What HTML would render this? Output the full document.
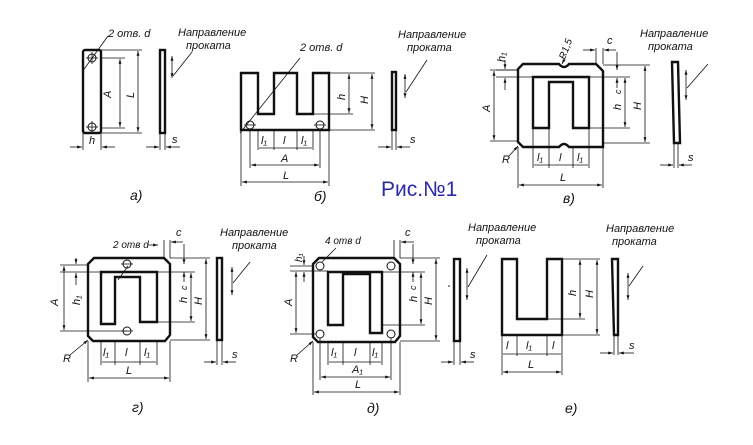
<!DOCTYPE html>
<html><head><meta charset="utf-8"><style>
html,body{margin:0;padding:0;background:#fff}
svg{display:block}
text{font-family:"Liberation Sans",sans-serif;font-style:italic;fill:#111}
.l{stroke:#111;fill:none;stroke-width:1}
.t{stroke:#111;fill:none;stroke-width:2.4}
.d{stroke:#111;fill:none;stroke-width:0.8}
</style></head><body>
<svg width="753" height="445" viewBox="0 0 753 445" xmlns="http://www.w3.org/2000/svg">
<defs>
<marker id="a" viewBox="0 0 10 10" refX="10" refY="5" markerWidth="6" markerHeight="6" orient="auto-start-reverse"><path d="M0,2 L10,5 L0,8z" fill="#111"/></marker>
</defs>
<g font-size="11">
<!-- Fig a -->
<rect class="t" x="83" y="50" width="18" height="83" rx="2"/>
<circle class="l" cx="92" cy="58" r="4"/><circle class="l" cx="92" cy="127" r="4"/>
<line class="d" x1="86" y1="58" x2="98" y2="58"/><line class="d" x1="92" y1="52" x2="92" y2="64"/>
<line class="d" x1="86" y1="127" x2="98" y2="127"/><line class="d" x1="92" y1="121" x2="92" y2="133"/>
<line class="d" x1="101" y1="58" x2="125" y2="58"/><line class="d" x1="101" y1="128" x2="125" y2="128"/>
<line class="d" x1="120" y1="59" x2="120" y2="127" marker-start="url(#a)" marker-end="url(#a)"/>
<line class="d" x1="101" y1="50" x2="142" y2="50"/><line class="d" x1="101" y1="133" x2="142" y2="133"/>
<line class="d" x1="138" y1="51" x2="138" y2="132" marker-start="url(#a)" marker-end="url(#a)"/>
<line class="d" x1="82" y1="72" x2="108" y2="36"/>
<text x="108" y="37">2 отв. d</text>
<text x="111" y="98" transform="rotate(-90 111 98)">A</text>
<text x="134" y="98" transform="rotate(-90 134 98)">L</text>
<line class="d" x1="83" y1="133" x2="83" y2="150"/><line class="d" x1="101" y1="133" x2="101" y2="150"/>
<line class="d" x1="70" y1="147" x2="82" y2="147" marker-end="url(#a)"/><line class="d" x1="115" y1="147" x2="102" y2="147" marker-end="url(#a)"/>
<text x="89" y="144">h</text>
<rect class="t" x="160" y="50" width="5" height="83"/>
<line class="d" x1="160" y1="133" x2="160" y2="150"/><line class="d" x1="165" y1="133" x2="165" y2="150"/>
<line class="d" x1="146" y1="147" x2="159" y2="147" marker-end="url(#a)"/><line class="d" x1="180" y1="147" x2="166" y2="147" marker-end="url(#a)"/>
<text x="172" y="143">s</text>
<line class="d" x1="172" y1="56" x2="172" y2="78" marker-start="url(#a)" marker-end="url(#a)"/>
<line class="d" x1="173" y1="76" x2="192" y2="52"/>
<text x="178" y="36">Направление</text><text x="186" y="49">проката</text>
<text x="130" y="200" font-size="14">а)</text>

<!-- Fig б -->
<path class="t" d="M241,130 L241,73 L258,73 L258,114 L274,114 L274,73 L297,73 L297,114 L313,114 L313,73 L329,73 L329,130 Z"/>
<circle class="l" cx="250" cy="125" r="4"/><circle class="l" cx="320" cy="125" r="4"/>
<line class="d" x1="244" y1="125" x2="256" y2="125"/><line class="d" x1="314" y1="125" x2="326" y2="125"/>
<line class="d" x1="240" y1="133" x2="300" y2="58"/>
<text x="300" y="51">2 отв. d</text>
<line class="d" x1="329" y1="73" x2="375" y2="73"/><line class="d" x1="297" y1="114" x2="353" y2="114"/><line class="d" x1="329" y1="130" x2="375" y2="130"/>
<line class="d" x1="349" y1="74" x2="349" y2="113" marker-start="url(#a)" marker-end="url(#a)"/>
<line class="d" x1="372" y1="74" x2="372" y2="129" marker-start="url(#a)" marker-end="url(#a)"/>
<text x="345" y="100" transform="rotate(-90 345 100)">h</text>
<text x="368" y="104" transform="rotate(-90 368 104)">H</text>
<line class="d" x1="241" y1="130" x2="241" y2="186"/><line class="d" x1="329" y1="130" x2="329" y2="186"/>
<line class="d" x1="250" y1="130" x2="250" y2="168"/><line class="d" x1="320" y1="130" x2="320" y2="168"/>
<line class="d" x1="258" y1="130" x2="258" y2="150"/><line class="d" x1="274" y1="130" x2="274" y2="150"/><line class="d" x1="297" y1="130" x2="297" y2="150"/><line class="d" x1="313" y1="130" x2="313" y2="150"/>
<line class="d" x1="259" y1="148" x2="312" y2="148"/>
<text x="261" y="144">l₁</text><text x="283" y="144">l</text><text x="301" y="144">l₁</text>
<line class="d" x1="251" y1="165" x2="319" y2="165" marker-start="url(#a)" marker-end="url(#a)"/><text x="281" y="162">A</text>
<line class="d" x1="242" y1="182" x2="328" y2="182" marker-start="url(#a)" marker-end="url(#a)"/><text x="283" y="179">L</text>
<rect class="t" x="392" y="72" width="4" height="58"/>
<line class="d" x1="392" y1="130" x2="392" y2="150"/><line class="d" x1="396" y1="130" x2="396" y2="150"/>
<line class="d" x1="378" y1="147" x2="391" y2="147" marker-end="url(#a)"/><line class="d" x1="410" y1="147" x2="397" y2="147" marker-end="url(#a)"/>
<text x="410" y="143">s</text>
<line class="d" x1="405" y1="74" x2="405" y2="98" marker-start="url(#a)" marker-end="url(#a)"/>
<line class="d" x1="406" y1="92" x2="427" y2="60"/>
<text x="398" y="38">Направление</text><text x="407" y="51">проката</text>
<text x="314" y="201" font-size="14">б)</text>

<text x="381" y="196" font-size="21" style="font-style:normal;fill:#2a2aa8">Рис.№1</text>

<!-- Fig в -->
<path class="t" d="M523,64 L559,64 Q564,70 569,64 L596,64 L603,71 L603,147 L569,147 Q564,141 559,147 L523,147 L518,142 L518,69 Z"/>
<path class="t" d="M533,77 L589,77 L589,128 L573,128 L573,82 L549,82 L549,128 L533,128 Z"/>
<line class="d" x1="496" y1="70" x2="518" y2="70"/><line class="d" x1="496" y1="77" x2="533" y2="77"/>
<line class="d" x1="505" y1="60" x2="505" y2="69" marker-end="url(#a)"/><line class="d" x1="505" y1="90" x2="505" y2="78" marker-end="url(#a)"/>
<text x="505" y="62" transform="rotate(-90 505 62)">h₁</text>
<line class="d" x1="490" y1="70" x2="518" y2="70"/><line class="d" x1="490" y1="141" x2="518" y2="141"/>
<line class="d" x1="494" y1="71" x2="494" y2="140" marker-start="url(#a)" marker-end="url(#a)"/>
<text x="490" y="112" transform="rotate(-90 490 112)">A</text>
<line class="d" x1="589" y1="77" x2="630" y2="77"/><line class="d" x1="589" y1="128" x2="630" y2="128"/><line class="d" x1="603" y1="65" x2="650" y2="65"/><line class="d" x1="603" y1="143" x2="650" y2="143"/>
<line class="d" x1="625" y1="78" x2="625" y2="127" marker-start="url(#a)" marker-end="url(#a)"/>
<line class="d" x1="645" y1="66" x2="645" y2="142" marker-start="url(#a)" marker-end="url(#a)"/>
<text x="621" y="110" transform="rotate(-90 621 110)">h</text><text x="641" y="110" transform="rotate(-90 641 110)">H</text>
<line class="d" x1="596" y1="48" x2="596" y2="64"/><line class="d" x1="603" y1="48" x2="603" y2="64"/>
<line class="d" x1="583" y1="50" x2="595" y2="50" marker-end="url(#a)"/><line class="d" x1="616" y1="50" x2="604" y2="50" marker-end="url(#a)"/>
<text x="607" y="44">c</text>
<line class="d" x1="617" y1="52" x2="617" y2="70" marker-end="url(#a)"/><line class="d" x1="617" y1="88" x2="617" y2="78" marker-end="url(#a)"/>
<text x="621" y="94" transform="rotate(-90 621 94)" font-size="9">c</text>
<text x="565" y="60" transform="rotate(-70 565 60)" font-size="10">R1,5</text>
<line class="d" x1="566" y1="56" x2="562" y2="64" marker-end="url(#a)"/>
<text x="502" y="163">R</text><line class="d" x1="509" y1="156" x2="518" y2="146" marker-end="url(#a)"/>
<line class="d" x1="518" y1="147" x2="518" y2="188"/><line class="d" x1="603" y1="147" x2="603" y2="188"/>
<line class="d" x1="533" y1="128" x2="533" y2="168"/><line class="d" x1="549" y1="128" x2="549" y2="168"/><line class="d" x1="573" y1="147" x2="573" y2="168"/><line class="d" x1="589" y1="128" x2="589" y2="168"/>
<line class="d" x1="534" y1="165" x2="588" y2="165"/>
<text x="537" y="161">l₁</text><text x="559" y="161">l</text><text x="577" y="161">l₁</text>
<line class="d" x1="519" y1="185" x2="602" y2="185" marker-start="url(#a)" marker-end="url(#a)"/><text x="560" y="181">L</text>
<path class="t" d="M672,62 L678,62 L680,143 L674,143 Z"/>
<line class="d" x1="674" y1="143" x2="674" y2="168"/><line class="d" x1="678" y1="143" x2="678" y2="168"/>
<line class="d" x1="660" y1="165" x2="673" y2="165" marker-end="url(#a)"/><line class="d" x1="692" y1="165" x2="679" y2="165" marker-end="url(#a)"/>
<text x="688" y="161">s</text>
<line class="d" x1="686" y1="70" x2="686" y2="100" marker-start="url(#a)" marker-end="url(#a)"/>
<line class="d" x1="687" y1="88" x2="708" y2="64"/>
<text x="640" y="37">Направление</text><text x="648" y="50">проката</text>
<text x="563" y="203" font-size="14">в)</text>

<!-- Fig г -->
<path class="t" d="M94,258 L164,258 L170,264 L170,335 L165,341 L93,341 L88,336 L88,264 Z"/>
<path class="t" d="M101,272 L157,272 L157,322 L140,322 L140,277 L115,277 L115,324 L101,324 Z"/>
<circle class="l" cx="127" cy="264" r="4"/><circle class="l" cx="127" cy="331" r="4"/>
<line class="d" x1="121" y1="264" x2="133" y2="264"/><line class="d" x1="121" y1="331" x2="133" y2="331"/>
<text x="113" y="248" font-size="10">2 отв d</text><line class="d" x1="148" y1="245" x2="158" y2="245" marker-end="url(#a)"/>
<line class="d" x1="128" y1="266" x2="118" y2="280"/>
<line class="d" x1="60" y1="265" x2="88" y2="265"/><line class="d" x1="60" y1="272" x2="101" y2="272"/><line class="d" x1="60" y1="331" x2="127" y2="331"/>
<line class="d" x1="64" y1="266" x2="64" y2="330" marker-start="url(#a)" marker-end="url(#a)"/>
<text x="58" y="306" transform="rotate(-90 58 306)">A</text>
<line class="d" x1="76" y1="258" x2="76" y2="264" marker-end="url(#a)"/><line class="d" x1="76" y1="285" x2="76" y2="273" marker-end="url(#a)"/>
<text x="80" y="305" transform="rotate(-90 80 305)">h₁</text>
<line class="d" x1="157" y1="272" x2="195" y2="272"/><line class="d" x1="157" y1="322" x2="195" y2="322"/><line class="d" x1="170" y1="258" x2="210" y2="258"/><line class="d" x1="170" y1="340" x2="210" y2="340"/>
<line class="d" x1="191" y1="273" x2="191" y2="321" marker-start="url(#a)" marker-end="url(#a)"/>
<line class="d" x1="206" y1="259" x2="206" y2="339" marker-start="url(#a)" marker-end="url(#a)"/>
<text x="187" y="303" transform="rotate(-90 187 303)">h</text><text x="202" y="305" transform="rotate(-90 202 305)">H</text>
<line class="d" x1="164" y1="240" x2="164" y2="258"/><line class="d" x1="170" y1="240" x2="170" y2="258"/>
<line class="d" x1="183" y1="242" x2="171" y2="242" marker-end="url(#a)"/>
<text x="176" y="236">c</text>
<line class="d" x1="184" y1="244" x2="184" y2="264" marker-end="url(#a)"/><line class="d" x1="184" y1="282" x2="184" y2="272" marker-end="url(#a)"/>
<text x="187" y="290" transform="rotate(-90 187 290)" font-size="9">c</text>
<text x="63" y="362">R</text><line class="d" x1="70" y1="355" x2="88" y2="340" marker-end="url(#a)"/>
<line class="d" x1="88" y1="341" x2="88" y2="382"/><line class="d" x1="170" y1="341" x2="170" y2="382"/>
<line class="d" x1="101" y1="341" x2="101" y2="365"/><line class="d" x1="115" y1="341" x2="115" y2="365"/><line class="d" x1="140" y1="341" x2="140" y2="365"/><line class="d" x1="157" y1="341" x2="157" y2="365"/>
<line class="d" x1="102" y1="362" x2="156" y2="362"/>
<text x="103" y="356">l₁</text><text x="125" y="356">l</text><text x="144" y="356">l₁</text>
<line class="d" x1="89" y1="378" x2="169" y2="378" marker-start="url(#a)" marker-end="url(#a)"/><text x="126" y="374">L</text>
<rect class="t" x="217" y="258" width="5" height="82"/>
<line class="d" x1="217" y1="340" x2="217" y2="365"/><line class="d" x1="222" y1="340" x2="222" y2="365"/>
<line class="d" x1="204" y1="362" x2="216" y2="362" marker-end="url(#a)"/><line class="d" x1="236" y1="362" x2="223" y2="362" marker-end="url(#a)"/>
<text x="232" y="358">s</text>
<line class="d" x1="232" y1="267" x2="232" y2="295" marker-start="url(#a)" marker-end="url(#a)"/>
<line class="d" x1="233" y1="283" x2="250" y2="262"/>
<text x="220" y="236">Направление</text><text x="232" y="249">проката</text>
<text x="132" y="412" font-size="14">г)</text>

<!-- Fig д -->
<path class="t" d="M319,258 L394,258 L400,264 L400,336 L395,342 L318,342 L313,337 L313,264 Z"/>
<path class="t" d="M328,272 L382,272 L382,333 L370,333 L370,274 L343,274 L343,325 L328,325 Z"/>
<circle class="l" cx="320" cy="266" r="4"/><circle class="l" cx="391" cy="266" r="4"/><circle class="l" cx="320" cy="334" r="4"/><circle class="l" cx="391" cy="334" r="4"/>
<text x="325" y="244" font-size="10">4 отв d</text><line class="d" x1="336" y1="248" x2="322" y2="262"/>
<line class="d" x1="290" y1="266" x2="313" y2="266"/><line class="d" x1="290" y1="271" x2="328" y2="271"/><line class="d" x1="290" y1="334" x2="316" y2="334"/>
<line class="d" x1="296" y1="272" x2="296" y2="333" marker-start="url(#a)" marker-end="url(#a)"/>
<text x="292" y="306" transform="rotate(-90 292 306)">A</text>
<line class="d" x1="304" y1="256" x2="304" y2="265" marker-end="url(#a)"/><line class="d" x1="304" y1="282" x2="304" y2="272" marker-end="url(#a)"/>
<text x="302" y="262" transform="rotate(-90 302 262)" font-size="10">h₁</text>
<line class="d" x1="382" y1="272" x2="425" y2="272"/><line class="d" x1="382" y1="325" x2="425" y2="325"/><line class="d" x1="400" y1="258" x2="440" y2="258"/><line class="d" x1="400" y1="341" x2="440" y2="341"/>
<line class="d" x1="421" y1="273" x2="421" y2="324" marker-start="url(#a)" marker-end="url(#a)"/>
<line class="d" x1="436" y1="259" x2="436" y2="340" marker-start="url(#a)" marker-end="url(#a)"/>
<text x="417" y="302" transform="rotate(-90 417 302)">h</text><text x="432" y="305" transform="rotate(-90 432 305)">H</text>
<line class="d" x1="394" y1="240" x2="394" y2="258"/><line class="d" x1="400" y1="240" x2="400" y2="258"/>
<line class="d" x1="414" y1="242" x2="401" y2="242" marker-end="url(#a)"/><text x="405" y="236">c</text>
<line class="d" x1="413" y1="244" x2="413" y2="264" marker-end="url(#a)"/><line class="d" x1="413" y1="282" x2="413" y2="272" marker-end="url(#a)"/>
<text x="416" y="290" transform="rotate(-90 416 290)" font-size="9">c</text>
<text x="290" y="362">R</text><line class="d" x1="297" y1="355" x2="313" y2="341" marker-end="url(#a)"/>
<line class="d" x1="313" y1="342" x2="313" y2="395"/><line class="d" x1="400" y1="342" x2="400" y2="395"/>
<line class="d" x1="320" y1="338" x2="320" y2="380"/><line class="d" x1="391" y1="338" x2="391" y2="380"/>
<line class="d" x1="328" y1="342" x2="328" y2="365"/><line class="d" x1="343" y1="342" x2="343" y2="365"/><line class="d" x1="370" y1="342" x2="370" y2="365"/><line class="d" x1="382" y1="342" x2="382" y2="365"/>
<line class="d" x1="329" y1="362" x2="381" y2="362"/>
<text x="331" y="356">l₁</text><text x="354" y="356">l</text><text x="372" y="356">l₁</text>
<line class="d" x1="321" y1="377" x2="390" y2="377" marker-start="url(#a)" marker-end="url(#a)"/><text x="352" y="373">A₁</text>
<line class="d" x1="314" y1="392" x2="399" y2="392" marker-start="url(#a)" marker-end="url(#a)"/><text x="355" y="388">L</text>
<rect class="t" x="454" y="259" width="6" height="82"/>
<line class="d" x1="454" y1="341" x2="454" y2="365"/><line class="d" x1="460" y1="341" x2="460" y2="365"/>
<line class="d" x1="441" y1="362" x2="453" y2="362" marker-end="url(#a)"/><line class="d" x1="474" y1="362" x2="461" y2="362" marker-end="url(#a)"/>
<text x="470" y="358">s</text>
<line class="d" x1="467" y1="268" x2="467" y2="300" marker-start="url(#a)" marker-end="url(#a)"/>
<line class="d" x1="468" y1="287" x2="487" y2="255"/>
<text x="468" y="231">Направление</text><text x="476" y="244">проката</text>
<circle cx="449" cy="286" r="0.8" fill="#111"/>
<text x="367" y="413" font-size="14">д)</text>

<!-- Fig е -->
<path class="t" d="M502,259 L517,259 L517,319 L547,319 L547,259 L562,259 L562,335 L502,335 Z"/>
<line class="d" x1="502" y1="335" x2="502" y2="375"/><line class="d" x1="562" y1="335" x2="562" y2="375"/>
<line class="d" x1="517" y1="335" x2="517" y2="356"/><line class="d" x1="547" y1="335" x2="547" y2="356"/>
<line class="d" x1="503" y1="354" x2="561" y2="354"/>
<text x="506" y="349">l</text><text x="526" y="349">l₁</text><text x="552" y="349">l</text>
<line class="d" x1="503" y1="372" x2="561" y2="372" marker-start="url(#a)" marker-end="url(#a)"/><text x="528" y="368">L</text>
<line class="d" x1="562" y1="259" x2="600" y2="259"/><line class="d" x1="547" y1="319" x2="585" y2="319"/><line class="d" x1="562" y1="335" x2="600" y2="335"/>
<line class="d" x1="580" y1="260" x2="580" y2="318" marker-start="url(#a)" marker-end="url(#a)"/>
<line class="d" x1="597" y1="260" x2="597" y2="334" marker-start="url(#a)" marker-end="url(#a)"/>
<text x="576" y="296" transform="rotate(-90 576 296)">h</text><text x="593" y="298" transform="rotate(-90 593 298)">H</text>
<path class="t" d="M612,259 L618,259 L618,335 L614,335 Z"/>
<line class="d" x1="614" y1="335" x2="614" y2="355"/><line class="d" x1="618" y1="335" x2="618" y2="355"/>
<line class="d" x1="600" y1="353" x2="613" y2="353" marker-end="url(#a)"/><line class="d" x1="634" y1="353" x2="619" y2="353" marker-end="url(#a)"/>
<text x="629" y="349">s</text>
<line class="d" x1="628" y1="273" x2="628" y2="300" marker-start="url(#a)" marker-end="url(#a)"/>
<line class="d" x1="629" y1="286" x2="643" y2="266"/>
<text x="606" y="232">Направление</text><text x="612" y="245">проката</text>
<text x="565" y="413" font-size="14">е)</text>
</g>
</svg>
</body></html>
